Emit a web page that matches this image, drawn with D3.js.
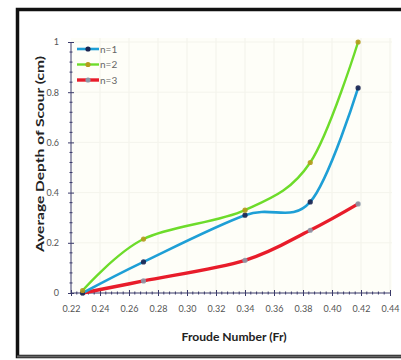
<!DOCTYPE html>
<html><head><meta charset="utf-8">
<script src="https://cdn.jsdelivr.net/npm/d3@7"></script>
<style>html,body{margin:0;padding:0;background:#fff;}svg{display:block;}</style>
</head><body>
<svg id="c" width="401" height="360"></svg>
<script>
const froude = [0.228, 0.27, 0.34, 0.385, 0.418];
const n1 = [0.0, 0.124, 0.31, 0.363, 0.817];
const n2 = [0.01, 0.215, 0.33, 0.52, 1.0];
const n3 = [0.0, 0.048, 0.13, 0.25, 0.355];
const seriesNames = ["n=1", "n=2", "n=3"];
const xTicks = [0.22,0.24,0.26,0.28,0.30,0.32,0.34,0.36,0.38,0.40,0.42,0.44];
const yTicks = [0,0.2,0.4,0.6,0.8,1];

const svg = d3.select("#c");
const x = d3.scaleLinear().domain([0.22,0.44]).range([71,390]);
const y = d3.scaleLinear().domain([0,1]).range([293,42]);

// outer frame
svg.append("rect").attr("x",17.5).attr("y",9.5).attr("width",400).attr("height",347)
  .attr("fill","#fff").attr("stroke","#111").attr("stroke-width",3.5);
svg.append("line").attr("x1",17).attr("x2",401).attr("y1",356.5).attr("y2",356.5).attr("stroke","#666").attr("stroke-width",2);

// plot background & grid
svg.append("rect").attr("x",71).attr("y",38).attr("width",321).attr("height",255).attr("fill","#fefef8");
svg.append("g").selectAll("line").data(xTicks.slice(1)).join("line")
  .attr("x1",d=>x(d)).attr("x2",d=>x(d)).attr("y1",38).attr("y2",293)
  .attr("stroke","#f2f2ea").attr("stroke-width",1);
svg.append("g").selectAll("line").data(yTicks.slice(1)).join("line")
  .attr("x1",71).attr("x2",392).attr("y1",d=>y(d)).attr("y2",d=>y(d))
  .attr("stroke","#f4f4ec").attr("stroke-width",1);

const axisColor = "#3a3a6a";
const tickFont = "9px Lato, 'Liberation Sans Narrow', sans-serif";
// x axis
const xAxis = d3.axisBottom(x).tickValues(xTicks).tickSize(4).tickFormat(d3.format(".2f"));
const gx = svg.append("g").attr("transform","translate(0,293)").call(xAxis);
gx.select(".domain").attr("stroke",axisColor).attr("d","M71,0H390");
gx.selectAll(".tick line").attr("stroke",axisColor).attr("y1",-3).attr("y2",3);
gx.selectAll(".tick text").attr("y",13).attr("fill","#555").style("font",tickFont);
const xMinor = d3.range(0,56).map(i=>0.22+i*0.004).filter((d,i)=>i%5!==0);
gx.append("g").selectAll("line").data(xMinor).join("line")
  .attr("x1",d=>x(d)).attr("x2",d=>x(d)).attr("y1",-1.5).attr("y2",1.5).attr("stroke",axisColor);

// y axis
const yAxis = d3.axisLeft(y).tickValues(yTicks).tickSize(4).tickFormat(d=>d===0?"0":d===1?"1":d3.format(".1f")(d));
const gy = svg.append("g").attr("transform","translate(71,0)").call(yAxis);
gy.select(".domain").attr("stroke",axisColor).attr("d","M0,293V42");
gy.selectAll(".tick line").attr("stroke",axisColor).attr("x1",-3).attr("x2",3);
gy.selectAll(".tick text").attr("x",-12).attr("fill","#555").style("font",tickFont);
const yMinor = d3.range(0,26).map(i=>i*0.04).filter((d,i)=>i%5!==0);
gy.append("g").selectAll("line").data(yMinor).join("line")
  .attr("y1",d=>y(d)).attr("y2",d=>y(d)).attr("x1",-1.5).attr("x2",1.5).attr("stroke",axisColor);

// series
const series = [
  {name:seriesNames[0], vals:n1, color:"#1e9fd6", marker:"#1b2450", w:2.6},
  {name:seriesNames[1], vals:n2, color:"#6ddc2a", marker:"#b59a1c", w:2.4},
  {name:seriesNames[2], vals:n3, color:"#e81c2a", marker:"#8c98a8", w:3.4}
];
const line = d3.line().x(d=>x(d[0])).y(d=>y(d[1])).curve(d3.curveCardinal.tension(0));
const order = [2,0,1];
order.forEach(i=>{
  const s = series[i];
  const pts = froude.map((f,j)=>[f,s.vals[j]]);
  svg.append("path").attr("d",line(pts)).attr("fill","none").attr("stroke",s.color).attr("stroke-width",s.w).attr("stroke-linecap","round");
});
order.forEach(i=>{
  const s = series[i];
  svg.append("g").selectAll("circle").data(froude.map((f,j)=>[f,s.vals[j]])).join("circle")
    .attr("cx",d=>x(d[0])).attr("cy",d=>y(d[1])).attr("r",2.6).attr("fill",s.marker).attr("opacity",0.9);
});

// legend
series.forEach((s,i)=>{
  const ly = 49 + i*15.5;
  svg.append("line").attr("x1",77).attr("x2",99).attr("y1",ly).attr("y2",ly).attr("stroke",s.color).attr("stroke-width",s.w);
  svg.append("circle").attr("cx",88).attr("cy",ly).attr("r",2.6).attr("fill",s.marker);
  svg.append("text").attr("x",100).attr("y",ly+3.5).attr("fill","#666").style("font","10px Lato, sans-serif").text(s.name);
});

// axis titles
svg.append("text").attr("x",234).attr("y",341).attr("text-anchor","middle").attr("fill","#222")
  .attr("textLength",105).attr("lengthAdjust","spacingAndGlyphs")
  .style("font","bold 12px Lato, 'Open Sans', sans-serif").text("Froude Number (Fr)");
svg.append("text").attr("transform","translate(44,154) rotate(-90)").attr("text-anchor","middle").attr("fill","#222")
  .attr("textLength",196).attr("lengthAdjust","spacingAndGlyphs")
  .style("font","bold 12px Lato, 'Open Sans', sans-serif").text("Average Depth of Scour (cm)");
</script>
</body></html>
